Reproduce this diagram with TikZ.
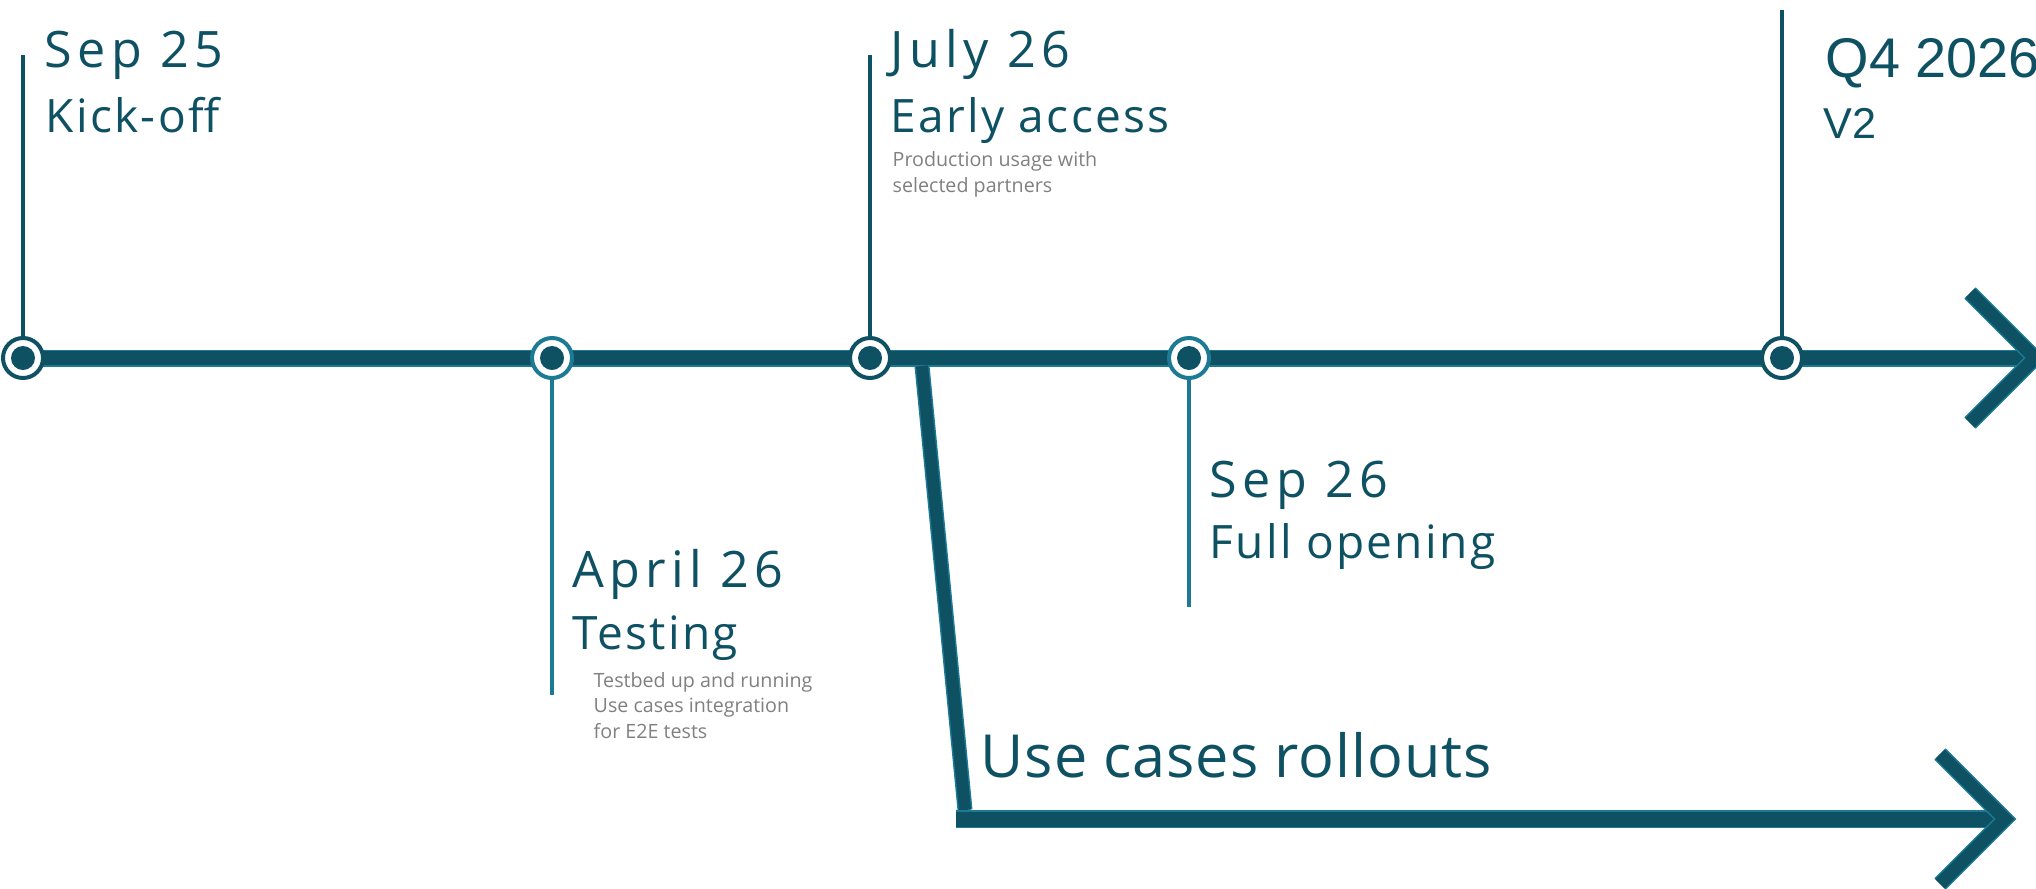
\documentclass[tikz,border=0pt]{standalone}
\usepackage{fontspec}
\setmainfont{Open Sans}
\newfontfamily\datefont[LetterSpace=10.5]{Open Sans}
\newfontfamily\widefont[LetterSpace=5.0]{Open Sans}
\newfontfamily\rollfont[LetterSpace=1.5]{Open Sans}
\newfontfamily\arialfont{Liberation Sans}
\definecolor{tdark}{HTML}{0E5163}
\definecolor{tlight}{HTML}{1C7A94}
\definecolor{tgray}{HTML}{808080}
\pgfdeclarelayer{background}
\pgfsetlayers{background,main}

\begin{document}
\begin{tikzpicture}[
  every node/.style={inner sep=0pt},
  bar/.style={draw=tlight, line width=0.015cm, double=tdark},
  stem/.style={line width=0.04cm},
  marker/.style={circle, draw=#1, line width=0.04cm, fill=white, minimum size=0.40cm,
    path picture={\fill[tdark] (path picture bounding box.center) circle (0.12);}},
  title/.style={anchor=base west, text=tdark, font=\datefont\fontsize{14.3}{17}\selectfont},
  sub/.style={anchor=base west, text=tdark, font=\widefont\fontsize{13.1}{16}\selectfont},
  note/.style={anchor=base west, text=tgray, align=left, font=\fontsize{5.6}{7.2}\selectfont},
]
\useasboundingbox (0,0) rectangle (20.36,8.88);

% Milestones on the main line
\node[marker=tdark]  (sep25) at ( 0.23,5.30) {};
\node[marker=tlight] (apr26) at ( 5.52,5.30) {};
\node[marker=tdark]  (jul26) at ( 8.70,5.30) {};
\node[marker=tlight] (sep26) at (11.89,5.30) {};
\node[marker=tdark]  (q426)  at (17.82,5.30) {};

% Stem ends
\coordinate (sep25top) at ( 0.23,8.33);
\coordinate (jul26top) at ( 8.70,8.33);
\coordinate (q426top)  at (17.82,8.78);
\coordinate (apr26bot) at ( 5.52,1.93);
\coordinate (sep26bot) at (11.89,2.81);

% Arrow ends
\coordinate (mainEnd)   at (20.27,5.30);
\coordinate (mainTip)   at (20.35,5.30);
\coordinate (mainArmA)  at (19.70,5.95);
\coordinate (mainArmB)  at (19.70,4.65);
\coordinate (branchTop) at ( 9.22,5.22);
\coordinate (branchBot) at ( 9.65,0.78);
\coordinate (rollStart) at ( 9.56,0.69);
\coordinate (rollEnd)   at (19.95,0.69);
\coordinate (rollTip)   at (20.05,0.69);
\coordinate (rollArmA)  at (19.40,1.34);
\coordinate (rollArmB)  at (19.40,0.04);

\begin{pgfonlayer}{background}
% Main timeline
\draw[bar, double distance=0.14cm] (sep25.center) -- (mainEnd);
\draw[bar, double distance=0.13cm, line join=miter] (mainArmA) -- (mainTip) -- (mainArmB);

% Branch for the rollouts
\draw[bar, double distance=0.12cm] (branchTop) -- (branchBot);
\draw[bar, double distance=0.15cm] (rollStart) -- (rollEnd);
\draw[bar, double distance=0.13cm, line join=miter] (rollArmA) -- (rollTip) -- (rollArmB);
\end{pgfonlayer}

\begin{scope}[stem]
\draw[tdark]  (sep25) -- (sep25top);
\draw[tdark]  (jul26) -- (jul26top);
\draw[tdark]  (q426)  -- (q426top);
\draw[tlight] (apr26) -- (apr26bot);
\draw[tlight] (sep26) -- (sep26bot);
\end{scope}

% Labels
\node[title] (sep25date) at (0.44,8.21) {Sep 25};
\node[sub]   (sep25name) at (0.45,7.56) {Kick-off};

\node[title] (jul26date) at (8.90,8.21) {July 26};
\node[sub]   (jul26name) at (8.90,7.56) {Early access};
\node[note]  (jul26note) at (8.92,6.96) {Production usage with\\selected partners};

\node[title] (apr26date) at (5.72,3.01) {April 26};
\node[sub]   (apr26name) at (5.72,2.39) {Testing};
\node[note]  (apr26note) at (5.93,1.50) {Testbed up and running\\Use cases integration\\for E2E tests};

\node[title] (sep26date) at (12.09,3.91) {Sep 26};
\node[sub]   (sep26name) at (12.09,3.30) {Full opening};

\node[title, font=\arialfont\fontsize{15.9}{18}\selectfont] (q426date) at (18.25,8.11) {Q4 2026};
\node[sub, font=\arialfont\fontsize{12.3}{15}\selectfont]   (q426name) at (18.23,7.50) {V2};

\node[anchor=base west, text=tdark, font=\rollfont\fontsize{16.9}{20}\selectfont] (rollouts) at (9.80,1.11) {Use cases rollouts};

\end{tikzpicture}
\end{document}
